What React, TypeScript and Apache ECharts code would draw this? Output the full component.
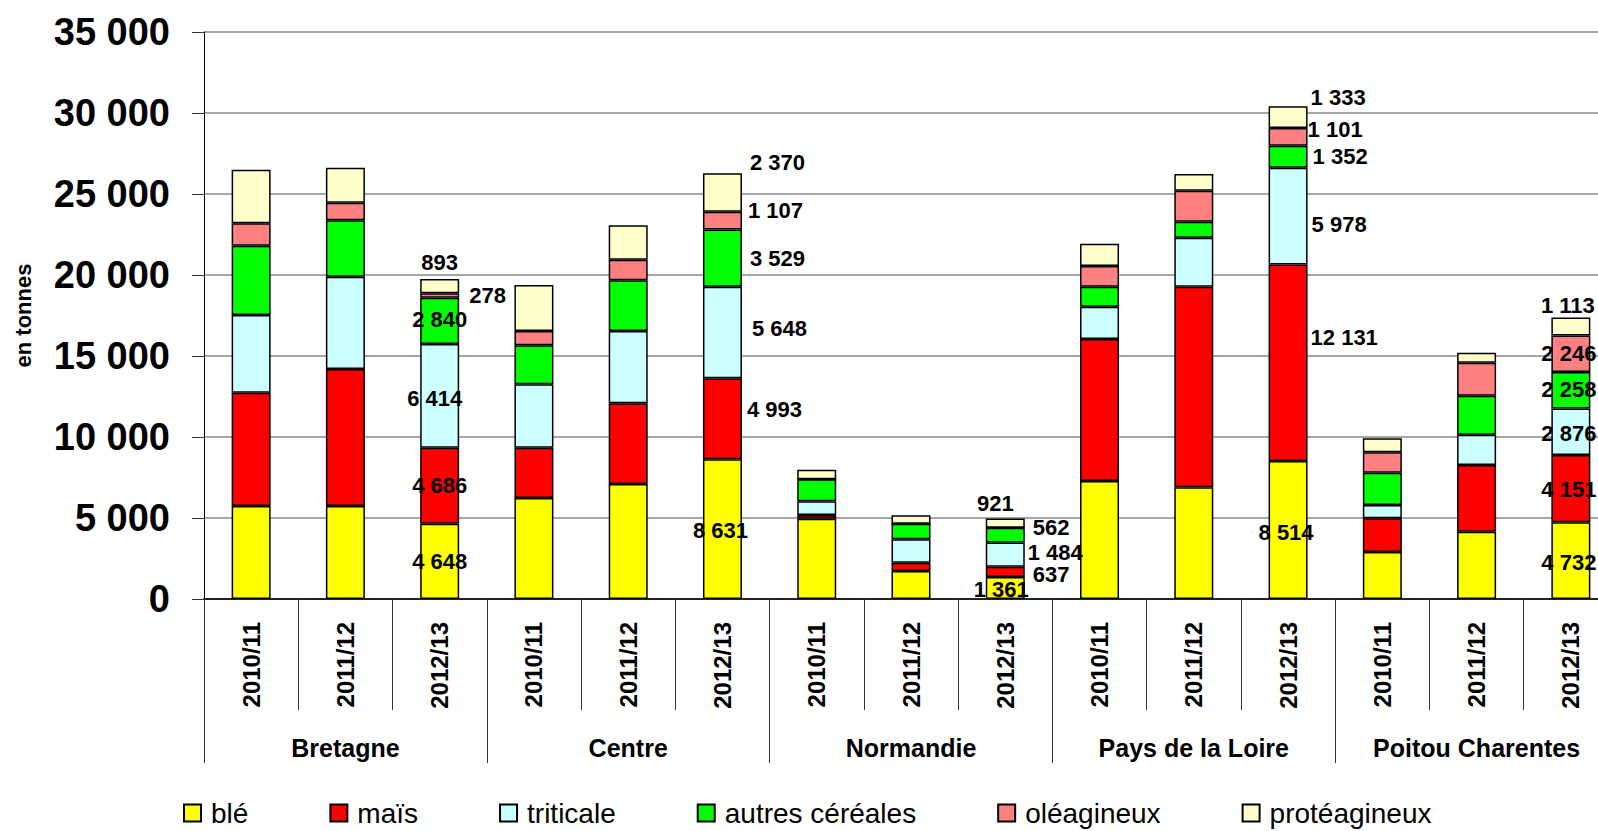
import React, { useEffect, useRef } from "react";
import * as echarts from "echarts";

const regions = ["Bretagne", "Centre", "Normandie", "Pays de la Loire", "Poitou Charentes"];
const seasons = ["2010/11", "2011/12", "2012/13"];
const categories = regions.flatMap(() => seasons);

const seriesNames = ["blé", "maïs", "triticale", "autres céréales", "oléagineux", "protéagineux"];
const ble = [5741, 5741, 4648, 6235, 7099, 8631, 4957, 1728, 1361, 7284, 6895, 8514, 2901, 4154, 4732];
const mais = [6994, 8457, 4686, 3105, 4982, 4993, 228, 512, 637, 8766, 12383, 12131, 2080, 4117, 4151];
const triticale = [4796, 5698, 6414, 3914, 4463, 5648, 846, 1444, 1484, 1994, 3025, 5978, 821, 1870, 2876];
const autres = [4278, 3481, 2840, 2407, 3130, 3529, 1358, 963, 921, 1235, 988, 1352, 1994, 2407, 2258];
const oleagineux = [1383, 1086, 278, 883, 1272, 1107, 0, 0, 0, 1278, 1914, 1101, 1259, 2037, 2246];
const proteagineux = [3309, 2160, 893, 2840, 2123, 2370, 593, 519, 562, 1377, 1031, 1333, 864, 617, 1113];
const seriesValues = [ble, mais, triticale, autres, oleagineux, proteagineux];
const colors = ["#FFFF00", "#FF0000", "#CCFFFF", "#00FF00", "#FF8080", "#FFFFCC"];

// label placement (style only): per series, per category index
type Place = { pos: string; off: [number, number] };
const placements: Record<number, Place>[] = [
  { 2: { pos: "inside", off: [0, 0] }, 5: { pos: "inside", off: [-2, 1] }, 8: { pos: "inside", off: [-4, 2] }, 11: { pos: "inside", off: [-2, 2] }, 14: { pos: "inside", off: [-2, 2] } },
  { 2: { pos: "inside", off: [0, 0] }, 5: { pos: "right", off: [0, -9] }, 8: { pos: "right", off: [3, 3] }, 11: { pos: "right", off: [-2, -25] }, 14: { pos: "inside", off: [-2, 1] } },
  { 2: { pos: "inside", off: [-5, 3] }, 5: { pos: "right", off: [5, -4] }, 8: { pos: "right", off: [-2, -2] }, 11: { pos: "right", off: [-1, 8] }, 14: { pos: "inside", off: [-2, 2] } },
  { 2: { pos: "inside", off: [0, -1] }, 5: { pos: "right", off: [3, 0] }, 8: { pos: "top", off: [-10, -8] }, 11: { pos: "right", off: [0, 0] }, 14: { pos: "inside", off: [-2, -1] } },
  { 2: { pos: "right", off: [5, 0] }, 5: { pos: "right", off: [1, -10] }, 11: { pos: "right", off: [-5, -7] }, 14: { pos: "inside", off: [-2, 0] } },
  { 2: { pos: "top", off: [0, 0] }, 5: { pos: "right", off: [3, -30] }, 8: { pos: "right", off: [3, 4] }, 11: { pos: "right", off: [-2, -20] }, 14: { pos: "top", off: [-3, 4] } },
];

const fmt = (v: number) => String(Math.round(v)).replace(/\B(?=(\d{3})+(?!\d))/g, " ");
const FONT = "'Liberation Sans', Arial, sans-serif";

export default function App() {
  const ref = useRef<HTMLDivElement>(null);
  useEffect(() => {
    if (!ref.current) return;
    const chart = echarts.init(ref.current, undefined, { renderer: "svg" });
    const series = seriesNames.map((name, s) => ({
      name,
      type: "bar",
      stack: "total",
      barWidth: 39,
      xAxisIndex: 0,
      itemStyle: { color: colors[s], borderColor: "#000", borderWidth: 1.5 },
      label: {
        show: false,
        fontFamily: FONT,
        fontSize: 22,
        fontWeight: "bold",
        color: "#000",
        formatter: (p: any) => fmt(p.value),
      },
      data: seriesValues[s].map((v, i) => {
        const p = placements[s][i];
        if (!p) return v;
        return { value: v, label: { show: true, position: p.pos, offset: p.off, distance: 5 } };
      }),
    }));
    chart.setOption({
      animation: false,
      backgroundColor: "#fff",
      textStyle: { fontFamily: FONT },
      grid: { left: 204, top: 32, width: 1414, height: 567, containLabel: false, outerBoundsMode: "none" },
      legend: {
        left: 183,
        top: 799,
        padding: 0,
        itemWidth: 17,
        itemHeight: 17,
        itemGap: 81,
        icon: "rect",
        textStyle: { fontFamily: FONT, fontSize: 28, color: "#000", padding: [0, 0, 0, 5] },
        data: seriesNames,
      },
      xAxis: [
        {
          type: "category",
          data: categories,
          position: "bottom",
          axisLine: { show: true, lineStyle: { color: "#222", width: 2 } },
          axisTick: { show: true, interval: 0, length: 111, lineStyle: { color: "#333", width: 1 } },
          axisLabel: {
            interval: 0,
            rotate: 90,
            margin: 23,
            fontFamily: FONT,
            fontSize: 24,
            fontWeight: "bold",
            color: "#000",
          },
        },
        {
          type: "category",
          data: regions,
          position: "bottom",
          offset: 0,
          axisLine: { show: false },
          axisTick: { show: true, interval: 0, length: 164, lineStyle: { color: "#333", width: 1 } },
          axisLabel: {
            interval: 0,
            margin: 136,
            fontFamily: FONT,
            fontSize: 25,
            fontWeight: "bold",
            color: "#000",
          },
        },
      ],
      yAxis: {
        type: "value",
        min: 0,
        max: 35000,
        interval: 5000,
        name: "en tonnes",
        nameLocation: "middle",
        nameRotate: 90,
        nameGap: 170,
        nameTextStyle: { fontFamily: FONT, fontSize: 22, fontWeight: "bold", color: "#000" },
        axisLine: { show: true, lineStyle: { color: "#000", width: 1 } },
        axisTick: { show: true, length: 12, lineStyle: { color: "#333", width: 1 } },
        axisLabel: {
          margin: 34,
          fontFamily: FONT,
          fontSize: 38,
          fontWeight: "bold",
          color: "#000",
          formatter: (v: number) => fmt(v),
        },
        splitLine: { show: true, lineStyle: { color: "#888", width: 1.5 } },
      },
      series,
    });
    return () => chart.dispose();
  }, []);
  return (
    <div
      ref={ref}
      style={{ position: "fixed", left: 0, top: 0, width: 1598, height: 831, background: "#fff" }}
    />
  );
}
